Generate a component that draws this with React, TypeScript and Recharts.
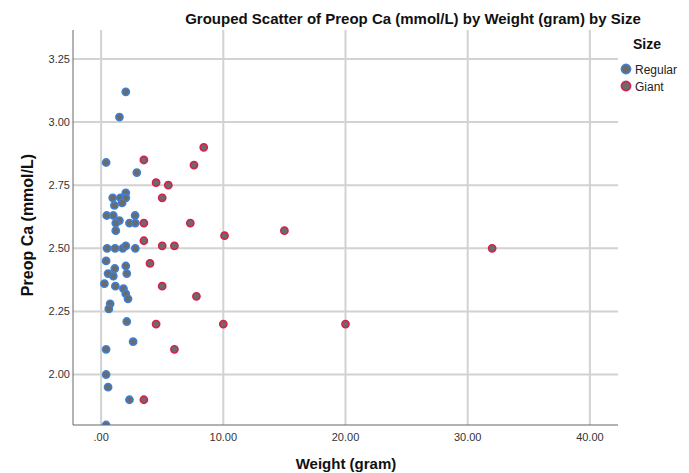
import React from "react";
import { ScatterChart, Scatter, XAxis, YAxis, CartesianGrid } from "recharts";

const regularWeight = [2.02, 1.5, 0.41, 2.92, 2.02, 0.95, 1.58, 2.02, 1.72, 1.09, 0.46, 1.0, 2.78, 1.5, 1.2, 2.32, 2.8, 1.2, 0.49, 1.14, 1.77, 2.8, 2.02, 0.41, 2.02, 1.12, 0.57, 2.1, 1.0, 0.27, 1.17, 1.83, 2.02, 2.2, 0.74, 0.63, 2.1, 2.62, 0.41, 0.41, 0.57, 2.32, 0.41];
const regularCa = [3.12, 3.02, 2.84, 2.8, 2.72, 2.7, 2.7, 2.7, 2.68, 2.67, 2.63, 2.63, 2.63, 2.61, 2.6, 2.6, 2.6, 2.57, 2.5, 2.5, 2.5, 2.5, 2.51, 2.45, 2.43, 2.42, 2.4, 2.4, 2.39, 2.36, 2.35, 2.34, 2.32, 2.3, 2.28, 2.26, 2.21, 2.13, 2.1, 2.0, 1.95, 1.9, 1.8];

const giantWeight = [3.5, 8.4, 7.6, 4.5, 5.5, 5.0, 3.5, 7.3, 3.5, 10.1, 5.0, 6.0, 4.0, 5.0, 7.8, 4.5, 10.0, 6.0, 3.5, 15.0, 20.0, 32.0];
const giantCa = [2.85, 2.9, 2.83, 2.76, 2.75, 2.7, 2.6, 2.6, 2.53, 2.55, 2.51, 2.51, 2.44, 2.35, 2.31, 2.2, 2.2, 2.1, 1.9, 2.57, 2.2, 2.5];

const xTicks = [0, 10, 20, 30, 40];
const yTicks = [2.0, 2.25, 2.5, 2.75, 3.0, 3.25];

const regularData = regularWeight.map((w, i) => ({ w, ca: regularCa[i] }));
const giantData = giantWeight.map((w, i) => ({ w, ca: giantCa[i] }));

const FONT = "'Liberation Sans', Arial, sans-serif";
const BLUE = "#3f80d4";
const RED = "#d7204a";
const FILL = "#6b6b6b";

const makeShape = (stroke: string) => (props: any) => {
  const { cx, cy } = props;
  return <circle cx={cx} cy={cy} r={3.6} fill={FILL} stroke={stroke} strokeWidth={1.6} />;
};

export default function App() {
  return (
    <div style={{ position: "absolute", left: 0, top: 0, width: 689, height: 473, background: "#fff", fontFamily: FONT }}>
      <ScatterChart width={689} height={473} margin={{ top: 30, right: 71, bottom: 0, left: 0 }}>
        <defs>
          <clipPath id="plotClip">
            <rect x={60} y={20} width={600} height={405} />
          </clipPath>
        </defs>
        <CartesianGrid stroke="#d2d2d2" strokeWidth={2} horizontalValues={yTicks} verticalValues={xTicks} />
        <XAxis
          type="number"
          dataKey="w"
          domain={[-2.3, 42.3]}
          ticks={xTicks}
          allowDataOverflow
          height={48}
          tickFormatter={(v: number) => (v === 0 ? ".00" : v.toFixed(2))}
          tick={{ fontSize: 11, fill: "#333", fontFamily: FONT }}
          stroke="#666"
          tickLine={false}
        />
        <YAxis
          type="number"
          dataKey="ca"
          domain={[1.8, 3.365]}
          ticks={yTicks}
          allowDataOverflow
          width={73}
          tickFormatter={(v: number) => v.toFixed(2)}
          tick={{ fontSize: 11, fill: "#333", fontFamily: FONT }}
          stroke="#666"
          tickLine={false}
          tickSize={3}
          tickMargin={0}
        />
        <Scatter data={regularData} isAnimationActive={false} shape={makeShape(BLUE)} clipPath="url(#plotClip)" />
        <Scatter data={giantData} isAnimationActive={false} shape={makeShape(RED)} />
      </ScatterChart>
      <div style={{ position: "absolute", left: 0, width: 826, top: 10, textAlign: "center", fontSize: 15, fontWeight: "bold", color: "#111" }}>
        Grouped Scatter of Preop Ca (mmol/L) by Weight (gram) by Size
      </div>
      <div style={{ position: "absolute", left: 246, width: 200, top: 455, textAlign: "center", fontSize: 15, fontWeight: "bold", color: "#111" }}>
        Weight (gram)
      </div>
      <div style={{ position: "absolute", left: 28, top: 226, width: 0, height: 0 }}>
        <div style={{ position: "absolute", left: -100, top: -10, width: 200, textAlign: "center", fontSize: 16, fontWeight: "bold", color: "#111", transform: "rotate(-90deg)", whiteSpace: "nowrap" }}>
          Preop Ca (mmol/L)
        </div>
      </div>
      <div style={{ position: "absolute", left: 633, top: 36, fontSize: 14, fontWeight: "bold", color: "#111" }}>Size</div>
      <svg style={{ position: "absolute", left: 619, top: 62 }} width={14} height={32}>
        <circle cx={7} cy={7} r={4.6} fill={FILL} stroke={BLUE} strokeWidth={1.6} />
        <circle cx={7} cy={24} r={4.6} fill={FILL} stroke={RED} strokeWidth={1.6} />
      </svg>
      <div style={{ position: "absolute", left: 635, top: 62, fontSize: 12, color: "#222", lineHeight: "17px" }}>
        <div>Regular</div>
        <div>Giant</div>
      </div>
    </div>
  );
}
